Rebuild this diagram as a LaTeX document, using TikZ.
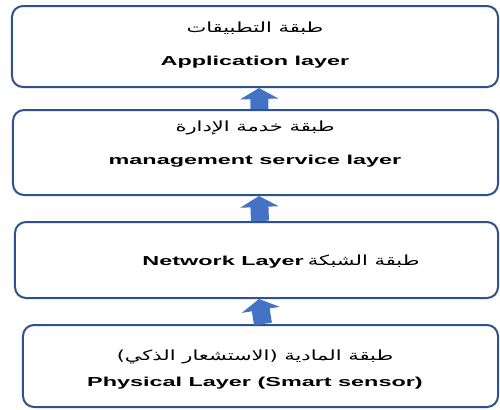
\documentclass[tikz,border=0pt]{standalone}
\usepackage{fontspec}
\setmainfont{Liberation Sans}
\newfontfamily\arabicfont[Script=Arabic]{DejaVu Sans}
\TeXXeTstate=1
\usetikzlibrary{arrows.meta}
\definecolor{boxline}{RGB}{47,82,143}
\definecolor{arrowfill}{RGB}{68,114,196}
\newcommand{\entext}[1]{\scalebox{1.8}[1]{\fontsize{13bp}{15bp}\selectfont\bfseries #1}}
\newcommand{\artext}[1]{\scalebox{1.5}[1]{\fontsize{14bp}{16bp}\selectfont\arabicfont\beginR #1\endR}}
\begin{document}
\begin{tikzpicture}[x=1bp,y=-1bp,
  layerbox/.style={draw=boxline, line width=2bp, rounded corners=11bp, fill=white, inner sep=0pt},
  label/.style={inner sep=0pt, anchor=base},
  uparrow/.style={draw=arrowfill, line width=18bp, -{Triangle[width=38bp,length=11bp]}}]
\useasboundingbox (0,0) rectangle (500,409);
\node[layerbox, minimum width=486bp, minimum height=81bp] (b1) at (255,46.5) {};
\node[layerbox, minimum width=485bp, minimum height=85bp] (b2) at (255.5,152.5) {};
\node[layerbox, minimum width=483bp, minimum height=76bp] (b3) at (256.5,260) {};
\node[layerbox, minimum width=475bp, minimum height=82bp] (b4) at (260.5,366) {};
% texts
\node[label] (a1) at (255,32) {\artext{طبقة التطبيقات}};
\node[label] (e1) at (255,65) {\entext{Application layer}};
\node[label] (a2) at (255,131) {\artext{طبقة خدمة الإدارة}};
\node[label] (e2) at (255,164) {\entext{management service layer}};
\node[label] (e3) at (281,265) {\entext{Network Layer}\hspace{4bp}\artext{طبقة الشبكة}};
\node[label] (a4) at (255,360) {\artext{طبقة المادية (الاستشعار الذكي)}};
\node[label] (e4) at (255,386) {\entext{Physical Layer (Smart sensor)}};
% arrows
\draw[uparrow] ([xshift=4bp]b2.north) -- ([xshift=4bp]b1.south);
\draw[uparrow] ([xshift=3.5bp]b3.north) -- ([xshift=3.5bp]b2.south);
\draw[uparrow] ([xshift=2.5bp]b4.north) -- ([xshift=2.5bp]b3.south);
\end{tikzpicture}
\end{document}
